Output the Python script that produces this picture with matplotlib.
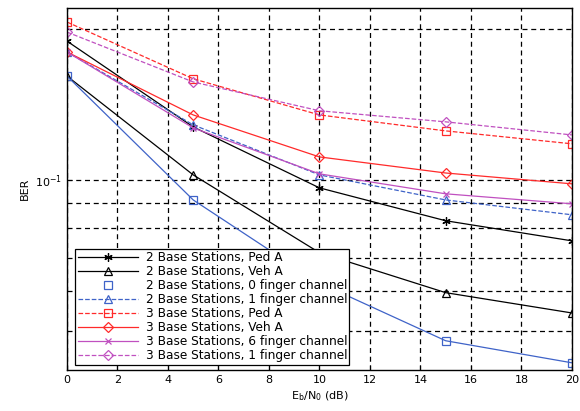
import numpy as np
import matplotlib
matplotlib.use("Agg")
import matplotlib.pyplot as plt
from matplotlib.ticker import LogLocator, NullFormatter, FixedLocator

plt.rcParams['font.family'] = ['DejaVu Sans']

# datos
snr_db = [0, 5, 10, 15, 20]
ber_2bs_ped = [0.189, 0.1275, 0.0964, 0.0829, 0.0756]
ber_2bs_veh = [0.161, 0.1023, 0.0716, 0.0596, 0.0543]
ber_2bs_0f = [0.161, 0.0912, 0.0623, 0.0478, 0.0432]
ber_2bs_1f = [0.1798, 0.1287, 0.1023, 0.0912, 0.0852]
ber_3bs_ped = [0.2063, 0.159, 0.1347, 0.1252, 0.118]
ber_3bs_veh = [0.1798, 0.1347, 0.1111, 0.1032, 0.0982]
ber_3bs_6f = [0.1798, 0.1269, 0.1028, 0.0938, 0.0896]
ber_3bs_1f = [0.197, 0.1567, 0.1373, 0.1305, 0.1229]

labels = ["2 Base Stations, Ped A", "2 Base Stations, Veh A",
          "2 Base Stations, 0 finger channel", "2 Base Stations, 1 finger channel",
          "3 Base Stations, Ped A", "3 Base Stations, Veh A",
          "3 Base Stations, 6 finger channel", "3 Base Stations, 1 finger channel"]

azul = '#3f63c8'
rojo = '#ff2a2a'
magenta = '#c050c0'

fig = plt.figure(figsize=(5.8, 4.11), dpi=100)
ax = fig.add_axes([0.1155, 0.0998, 0.8705, 0.8807])

ms = dict(markerfacecolor='none', markersize=6, markeredgewidth=0.9)
dm = dict(markerfacecolor='none', markersize=5.5, markeredgewidth=0.9)
lw = 0.9
asterisco = (6, 2, 0)

ax.plot(snr_db, ber_2bs_ped, color='black', marker=asterisco, lw=lw, label=labels[0],
        markersize=6, markeredgewidth=0.9)
ax.plot(snr_db, ber_2bs_veh, color='black', marker='^', lw=lw, label=labels[1], **ms)
ax.plot(snr_db, ber_2bs_0f, color=azul, lw=lw)
ax.plot(snr_db, ber_2bs_0f, color=azul, marker='s', ls='none', label=labels[2], **ms)
ax.plot(snr_db, ber_2bs_1f, color=azul, marker='^', ls='--', lw=lw, label=labels[3], **ms)
ax.plot(snr_db, ber_3bs_ped, color=rojo, marker='s', ls='--', lw=lw, label=labels[4], **ms)
ax.plot(snr_db, ber_3bs_veh, color=rojo, marker='D', lw=lw, label=labels[5], **dm)
ax.plot(snr_db, ber_3bs_6f, color=magenta, marker='x', lw=lw, label=labels[6],
        markersize=5, markeredgewidth=0.9)
ax.plot(snr_db, ber_3bs_1f, color=magenta, marker='D', ls='--', lw=lw, label=labels[7], **dm)

ax.set_yscale('log')
ax.set_xlim(0, 20)
ax.set_ylim(0.0418, 0.22)
ax.xaxis.set_major_locator(FixedLocator(np.arange(0, 21, 2)))
ax.yaxis.set_major_locator(LogLocator(base=10, numticks=5))
ax.yaxis.set_minor_locator(LogLocator(base=10, subs=np.arange(2, 10), numticks=10))
ax.yaxis.set_minor_formatter(NullFormatter())

ax.grid(True, which='both', axis='y', color='black', ls=(0, (4, 3)), lw=0.9)
ax.grid(True, which='major', axis='x', color='black', ls=(0, (4, 3)), lw=0.9)
ax.tick_params(which='both', direction='in', labelsize=8, top=False, right=False)
for s in ax.spines.values():
    s.set_linewidth(1.0)

ax.set_ylabel('BER', fontsize=8, labelpad=4)
ax.set_xlabel(r'$\mathregular{E_b/N_0}$ (dB)', fontsize=8, labelpad=3)

leg = ax.legend(loc='lower left', bbox_to_anchor=(0.012, 0.008), fontsize=8.7,
                fancybox=False, edgecolor='black', framealpha=1, numpoints=1,
                handlelength=5.0, borderpad=0.2, labelspacing=0.08, handletextpad=0.6,
                borderaxespad=0.2)
leg.get_frame().set_linewidth(0.9)

fig.savefig('out.png', dpi=100)
